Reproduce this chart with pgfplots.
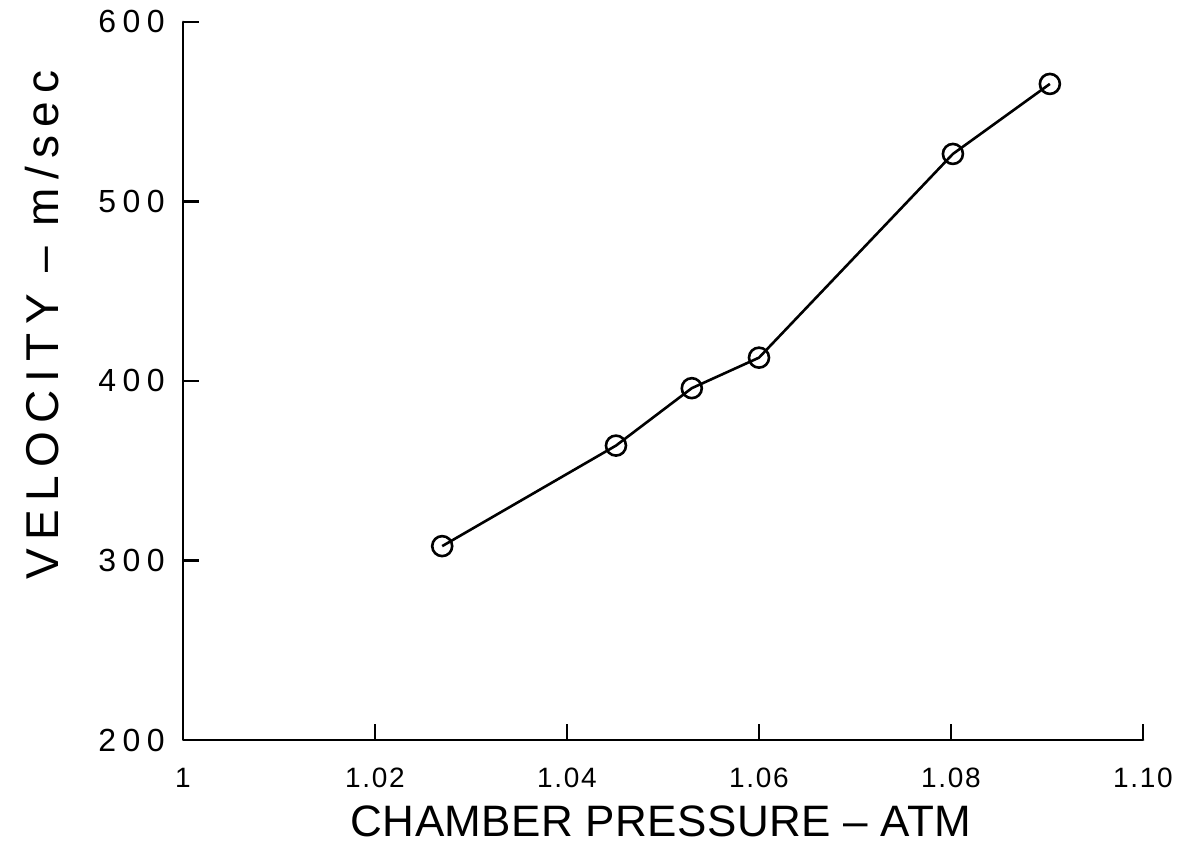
\documentclass[border=0pt]{standalone}
\usepackage{fontspec}
\setmainfont{Liberation Sans}
\newfontfamily\ytickfont[LetterSpace=20]{Liberation Sans}
\newfontfamily\xtickfont[LetterSpace=6]{Liberation Sans}
\newfontfamily\xlabfont[LetterSpace=1]{Liberation Sans}
\newfontfamily\ylabfont[LetterSpace=18]{Liberation Sans}
\usepackage{pgfplots}
\usetikzlibrary{calc}
\pgfplotsset{compat=1.18}
\begin{document}
\begin{tikzpicture}
\begin{axis}[
  name=ax,
  scale only axis,
  width=480pt, height=359pt,
  xmin=1, xmax=1.10, ymin=200, ymax=600,
  axis line style={draw=none},
  xtick={1,1.02,1.04,1.06,1.08,1.10},
  xticklabels={1,1.02,1.04,1.06,1.08,1.10},
  ytick={200,300,400,500,600},
  yticklabels={200,300,400,500,600},
  tick style={line width=1.2pt,black},
  xtick pos=bottom, ytick pos=left,
  tick align=inside,
  major tick length=8pt,
  xticklabel style={font=\xtickfont\fontsize{14}{14}\selectfont, anchor=base, inner sep=0pt, yshift=-24pt},
  yticklabel style={font=\ytickfont\fontsize{16}{16}\selectfont, anchor=east, inner sep=0pt, xshift=-9pt},
  xlabel={CHAMBER PRESSURE \textendash\ ATM},
  ylabel={VELOCITY \textendash\ m/sec},
  xlabel style={font=\xlabfont\fontsize{22}{22}\selectfont, at={(axis description cs:0.498,-0.135)}, anchor=base, inner sep=0pt},
  ylabel style={font=\ylabfont\fontsize{23}{23}\selectfont, at={(axis description cs:-0.130,0.578)}, anchor=base, rotate=0, inner sep=0pt},
  clip=false,
]
\draw[line width=1.4pt, line cap=round, line join=round] (rel axis cs:0,1) -- (rel axis cs:0,0) -- (rel axis cs:1,0);
\addplot[black, line width=1.3pt, mark=o, mark size=5pt, mark options={line width=1.3pt}]
  coordinates {
  (1.027,308) (1.0451,364) (1.053,396) (1.060,413) (1.0802,526.5) (1.0903,565.5)
  };
\end{axis}
\pgfresetboundingbox
\path[use as bounding box] ($(ax.south west)+(-91.5pt,-53.5pt)$) rectangle ($(ax.north east)+(23pt,11pt)$);
\end{tikzpicture}
\end{document}
